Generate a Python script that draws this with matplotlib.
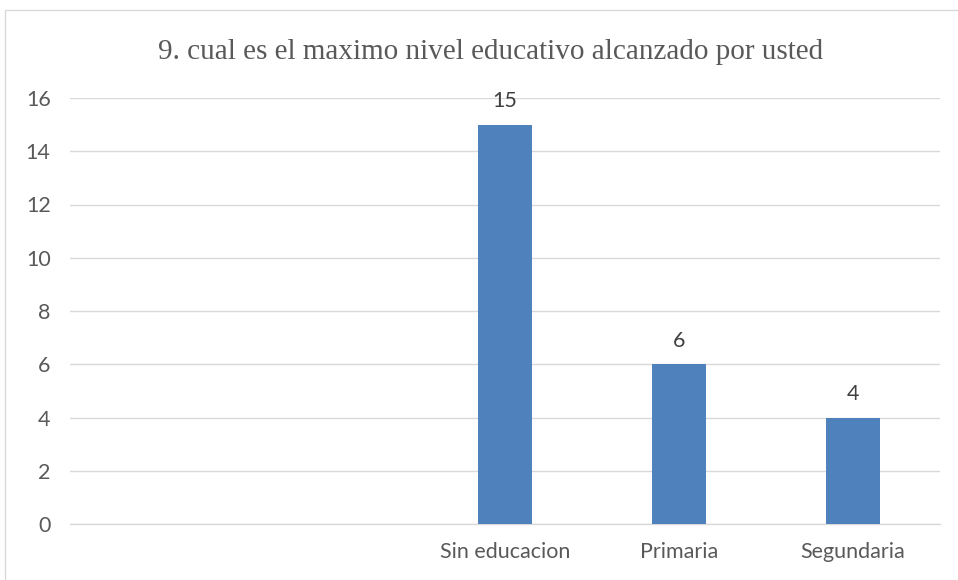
import matplotlib
matplotlib.use("Agg")
import matplotlib.pyplot as plt
from matplotlib.patches import Rectangle

categories = ["", " ", "Sin educacion", "Primaria", "Segundaria"]
values = [0, 0, 15, 6, 4]
labels_shown = [False, False, True, True, True]
yticks = [0, 2, 4, 6, 8, 10, 12, 14, 16]
title = "9. cual es el maximo nivel educativo alcanzado por usted"

W, H = 958, 580
fig = plt.figure(figsize=(W / 100, H / 100), dpi=100)
fig.patch.set_facecolor("white")
fig.patches.append(Rectangle((5 / W, -0.1), 1.2, 1 - 10 / H + 0.1, transform=fig.transFigure,
                             fill=False, edgecolor="#D9D9D9", linewidth=1.0))

FS = 15.5
ax = fig.add_axes([70 / W, 1 - 524 / H, (940 - 70) / W, (524 - 98) / H])
x = list(range(len(categories)))
ax.bar(x, values, width=0.31, color="#4F81BD", zorder=3)
for xi, v, show in zip(x, values, labels_shown):
    if show:
        ax.text(xi, v + 0.5, str(v), ha="center", va="bottom", fontsize=FS,
                color="#404040", family="Lato")

ax.set_xlim(-0.5, len(categories) - 0.5)
ax.set_ylim(0, 16)
ax.set_yticks(yticks)
ax.set_yticklabels([str(t) for t in yticks], fontsize=FS, color="#595959", family="Lato")
ax.set_xticks(x)
ax.set_xticklabels(categories, fontsize=FS, color="#595959", family="Lato")
ax.tick_params(axis="both", length=0)
ax.tick_params(axis="y", pad=14)
ax.tick_params(axis="x", pad=13)
ax.grid(axis="y", color="#D9D9D9", linewidth=1.0, zorder=0)
for s in ["top", "right", "left"]:
    ax.spines[s].set_visible(False)
ax.spines["bottom"].set_color("#D9D9D9")
ax.spines["bottom"].set_linewidth(1.0)

fig.text(491 / W, 1 - 52 / H, title, ha="center", va="center", fontsize=21,
         color="#595959", family="Liberation Serif")

fig.savefig("out.png", dpi=100, facecolor="white")
